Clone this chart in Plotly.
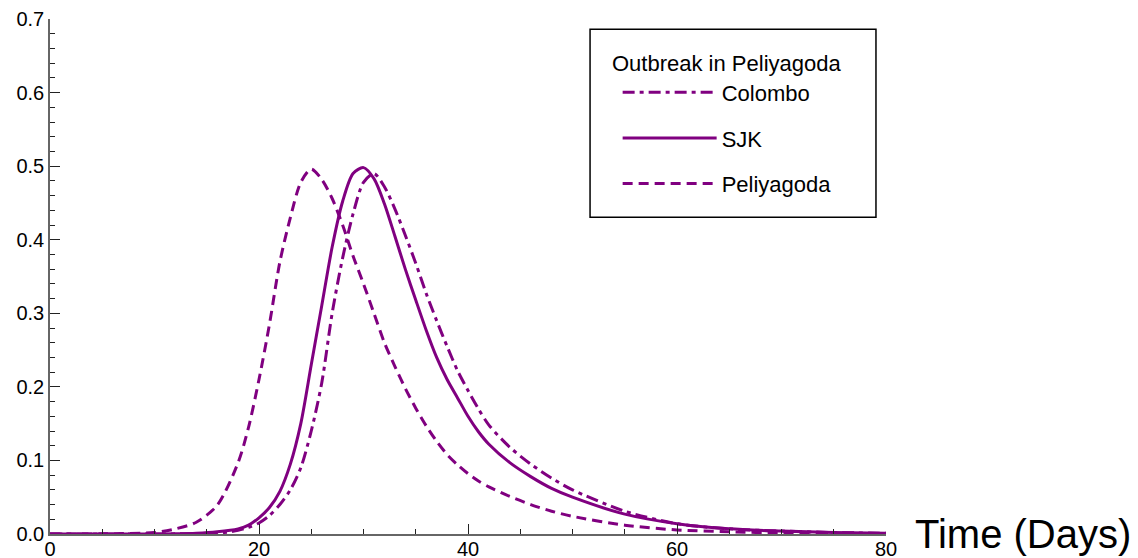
import plotly.graph_objects as go

# days on the time axis
days = [0, 5, 10, 12, 14, 16, 18, 19, 20, 21, 22, 23, 24, 25, 26, 27, 28, 29, 30,
        31, 32, 33, 34, 35, 36, 37, 38, 39, 40, 41, 42, 44, 46, 48, 50, 55, 60, 65, 70, 75, 80]

# infected fraction
colombo = [0, 0.00002, 0.0001, 0.0002, 0.0005, 0.001, 0.005, 0.009, 0.015, 0.025, 0.04,
           0.06, 0.09, 0.14, 0.205, 0.30, 0.375, 0.435, 0.478, 0.490, 0.472, 0.442,
           0.406, 0.368, 0.327, 0.290, 0.255, 0.222, 0.195, 0.170, 0.148, 0.118, 0.095,
           0.076, 0.060, 0.031, 0.014, 0.007, 0.004, 0.002, 0.001]
sjk = [0, 0.00002, 0.0001, 0.0003, 0.001, 0.003, 0.007, 0.012, 0.022, 0.036, 0.058,
       0.095, 0.15, 0.23, 0.31, 0.39, 0.452, 0.490, 0.498, 0.483, 0.449, 0.405, 0.36,
       0.318, 0.277, 0.240, 0.210, 0.185, 0.160, 0.139, 0.122, 0.097, 0.078, 0.062,
       0.050, 0.027, 0.014, 0.007, 0.004, 0.002, 0.001]
peliyagoda = [0, 0.0003, 0.002, 0.007, 0.016, 0.039, 0.097, 0.145, 0.21, 0.285, 0.37,
              0.43, 0.478, 0.496, 0.482, 0.456, 0.42, 0.378, 0.34, 0.30, 0.26, 0.228,
              0.198, 0.171, 0.147, 0.126, 0.108, 0.094, 0.082, 0.072, 0.064, 0.051,
              0.040, 0.031, 0.024, 0.012, 0.0055, 0.003, 0.0015, 0.0008, 0.0004]

purple = "#800080"
font_main = "Liberation Sans, Arial, sans-serif"

fig = go.Figure()
fig.add_trace(go.Scatter(x=days, y=colombo, name="Colombo", mode="lines",
                         line=dict(color=purple, width=3, dash="12px,5px,4px,5px",
                                   shape="spline", smoothing=0.8),
                         legendgroup="c"))
fig.add_trace(go.Scatter(x=days, y=sjk, name="SJK", mode="lines",
                         line=dict(color=purple, width=3, shape="spline", smoothing=0.8),
                         legendgroup="s"))
fig.add_trace(go.Scatter(x=days, y=peliyagoda, name="Peliyagoda", mode="lines",
                         line=dict(color=purple, width=3, dash="10px,6px",
                                   shape="spline", smoothing=0.8),
                         legendgroup="p"))

fig.update_layout(
    width=1138, height=558,
    margin=dict(l=42, r=260, t=11, b=32),
    paper_bgcolor="white", plot_bgcolor="white",
    font=dict(family=font_main, size=20, color="black"),
    showlegend=True,
    legend=dict(
        x=0.679, y=0.898, xanchor="left", yanchor="top",
        borderwidth=0, bgcolor="rgba(0,0,0,0)",
        font=dict(size=22), itemwidth=94, tracegroupgap=14,
    ),
    # legend frame
    shapes=[dict(type="rect", xref="paper", yref="paper",
                 x0=0.646, x1=0.988, y0=0.615, y1=0.980,
                 line=dict(color="black", width=1.5), fillcolor="white", layer="below")],
    annotations=[
        dict(text="Outbreak in Peliyagoda", xref="paper", yref="paper",
             x=0.670, y=0.914, xanchor="left", yanchor="middle",
             showarrow=False, font=dict(size=22, color="black")),
        dict(text="Time (Days)", xref="paper", yref="paper",
             x=1.032, y=0.0, xanchor="left", yanchor="middle",
             showarrow=False, font=dict(size=40, color="black")),
    ],
)

fig.update_xaxes(range=[0, 80], dtick=20, tick0=0, showgrid=False, zeroline=False,
                 showline=True, linecolor="#666666", linewidth=1.5, automargin=False,
                 ticks="inside", ticklen=10, tickwidth=1.2, tickcolor="#222222",
                 minor=dict(dtick=5, ticks="inside", ticklen=5, tickcolor="#222222", showgrid=False),
                 tickfont=dict(size=20), ticklabeloverflow="allow", ticklabelstandoff=-4)
fig.update_yaxes(range=[0, 0.7], dtick=0.1, tick0=0, tickformat=".1f", showgrid=False,
                 zeroline=False, showline=True, linecolor="#666666", linewidth=1.5,
                 automargin=False,
                 ticks="inside", ticklen=10, tickwidth=1.2, tickcolor="#222222",
                 minor=dict(dtick=0.02, ticks="inside", ticklen=5, tickcolor="#222222", showgrid=False),
                 tickfont=dict(size=20), ticklabeloverflow="allow")

fig.write_html("out.html")
